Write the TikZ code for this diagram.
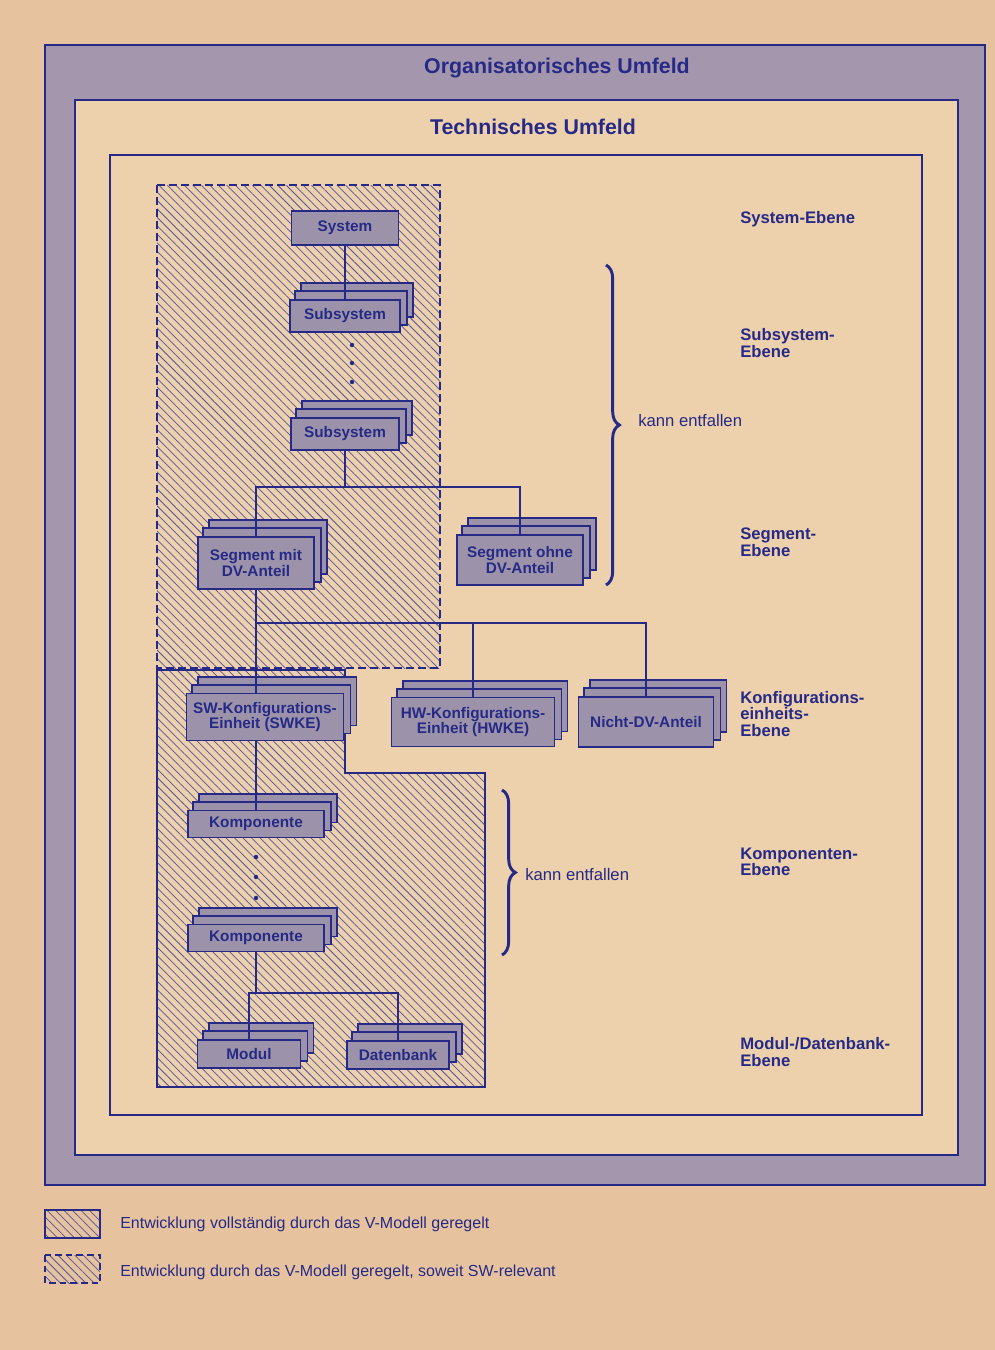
\documentclass[tikz,border=0pt]{standalone}
\usepackage{fontspec}
\setmainfont{Liberation Sans}
\usetikzlibrary{patterns.meta,decorations.pathreplacing}
\definecolor{paper}{HTML}{E6C39E}
\definecolor{inner}{HTML}{EDD0AC}
\definecolor{band}{HTML}{A496AC}
\definecolor{ink}{HTML}{262A86}
\definecolor{boxg}{HTML}{9C93AA}
\tikzset{
  frame/.style={draw=ink,line width=1.5pt},
  hatch/.style={pattern={Lines[angle=-45,distance=4.5pt,line width=0.55pt]},pattern color=ink!80},
  box/.style={draw=ink,line width=1.3pt,fill=boxg,text=ink,font=\bfseries\fontsize{11.5}{11.5}\selectfont,align=center,inner sep=1pt},
  back/.style={draw=ink,line width=1.3pt,fill=boxg},
  conn/.style={draw=ink,line width=1.3pt},
  lvl/.style={anchor=west,text=ink,font=\bfseries\fontsize{12.5}{12.5}\selectfont,align=left,inner sep=0pt},
  note/.style={anchor=west,text=ink,font=\fontsize{12.5}{13}\selectfont,inner sep=0pt},
  leg/.style={anchor=west,text=ink,font=\fontsize{12}{13}\selectfont,inner sep=0pt},
  brc/.style={draw=ink,line width=2.2pt,decorate,decoration={brace,amplitude=10pt}}
}
\newcommand\stk[6]{%
  \path (#2,#3) node[box,minimum width=#4*0.75pt,minimum height=#5*0.75pt] (#1) {#6};
  \draw[back] ([shift={(12,-16)}]#1.south west) rectangle ([shift={(12,-16)}]#1.north east);
  \draw[back] ([shift={(6,-8)}]#1.south west) rectangle ([shift={(6,-8)}]#1.north east);
  \path (#2,#3) node[box,minimum width=#4*0.75pt,minimum height=#5*0.75pt] {#6};}
\begin{document}
\begin{tikzpicture}[x=0.75pt,y=-0.75pt]
\useasboundingbox (0,0) rectangle (995,1350);
\fill[paper] (0,0) rectangle (995,1350);
\filldraw[frame,fill=band] (45,45) rectangle (985,1185);
\filldraw[frame,fill=inner] (75,100) rectangle (958,1155);
\filldraw[frame,fill=inner] (110,155) rectangle (922,1115);
\node[text=ink,font=\bfseries\fontsize{16}{16}\selectfont] (t1) at (557,68) {Organisatorisches Umfeld};
\node[text=ink,font=\bfseries\fontsize{16}{16}\selectfont] (t2) at (533,127) {Technisches Umfeld};
% hatched regions
\fill[hatch] (157,185) rectangle (440,668);
\draw[ink,line width=1.1pt,dash pattern=on 6pt off 3pt] (157,185) rectangle (440,668);
\filldraw[hatch,draw=ink,line width=1.3pt] (157,670) -- (345,670) -- (345,773) -- (485,773) -- (485,1087) -- (157,1087) -- cycle;
% connectors
\coordinate (j1) at (345,487);
\coordinate (j2) at (256,623);
\coordinate (j3) at (256,993);
% boxes
\node[box,minimum width=107*0.75pt,minimum height=34*0.75pt] (sys) at (345,228) {System};
\stk{sub1}{345}{316}{110}{32}{Subsystem}
\stk{sub2}{345}{434}{108}{32}{Subsystem}
\stk{segm}{256}{563}{116}{52}{Segment mit\\DV-Anteil}
\stk{sego}{520}{560}{126}{50}{Segment ohne\\DV-Anteil}
\stk{swke}{265}{717}{157}{47}{SW-Konfigurations-\\Einheit (SWKE)}
\stk{hwke}{473}{722}{163}{49}{HW-Konfigurations-\\Einheit (HWKE)}
\stk{ndv}{646}{722}{135}{50}{Nicht-DV-Anteil}
\stk{kom1}{256}{824}{136}{27}{Komponente}
\stk{kom2}{256}{938}{136}{27}{Komponente}
\stk{mod}{249}{1054}{103}{28}{Modul}
\stk{dat}{398}{1055}{102}{28}{Datenbank}
\draw[conn] (sys.south) -- (sys.south |- sub1.north);
\draw[conn] (sub2.south) -- (j1);
\draw[conn] (segm.north) -- (segm.north |- j1) -- (sego.north |- j1) -- (sego.north);
\draw[conn] (segm.south) -- (j2);
\draw[conn] (j2) -- (ndv.north |- j2) -- (ndv.north);
\draw[conn] (j2) -- (j2 |- swke.north);
\draw[conn] (hwke.north |- j2) -- (hwke.north);
\draw[conn] (j2 |- swke.south) -- (j2 |- kom1.north);
\draw[conn] (kom2.south) -- (j3);
\draw[conn] (mod.north) -- (mod.north |- j3) -- (dat.north |- j3) -- (dat.north);
% dots
\foreach \yy [count=\i] in {345,363,382} \fill[ink] (352,\yy) circle (2.2) coordinate (d\i);
\foreach \yy [count=\i] in {857,877,898} \fill[ink] (256,\yy) circle (2.2) coordinate (e\i);
% braces
\coordinate (b1a) at (606,265); \coordinate (b1b) at (606,585);
\draw[brc] (b1a) -- (b1b);
\node[note] (n1) at (638,421) {kann entfallen};
\coordinate (b2a) at (502,790); \coordinate (b2b) at (502,955);
\draw[brc] (b2a) -- (b2b);
\node[note] (n2) at (525,875) {kann entfallen};
% level labels
\node[lvl] (l1) at (740,219) {System-Ebene};
\node[lvl] (l2) at (740,343) {Subsystem-\\Ebene};
\node[lvl] (l3) at (740,542) {Segment-\\Ebene};
\node[lvl] (l4) at (740,714) {Konfigurations-\\einheits-\\Ebene};
\node[lvl] (l5) at (740,862) {Komponenten-\\Ebene};
\node[lvl] (l6) at (740,1052) {Modul-/Datenbank-\\Ebene};
% legend
\filldraw[hatch,draw=ink,line width=1.3pt] (45,1210) rectangle (100,1238);
\node[leg] (g1) at (120,1224) {Entwicklung vollständig durch das V-Modell geregelt};
\fill[hatch] (45,1255) rectangle (100,1283);
\draw[ink,line width=1.1pt,dash pattern=on 5pt off 3pt] (45,1255) rectangle (100,1283);
\node[leg] (g2) at (120,1272) {Entwicklung durch das V-Modell geregelt, soweit SW-relevant};
\end{tikzpicture}
\end{document}
